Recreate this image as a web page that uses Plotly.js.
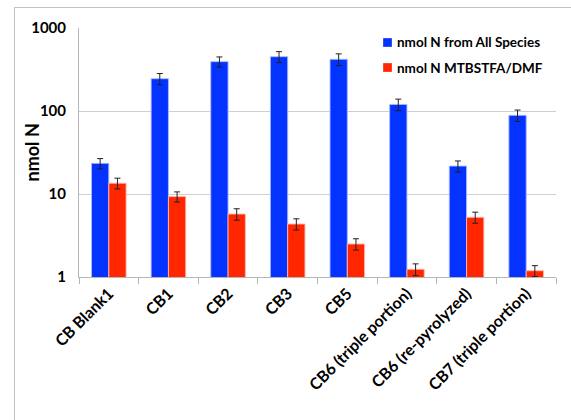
<!DOCTYPE html>
<html>
<head>
<meta charset="utf-8">
<script src="https://cdn.plot.ly/plotly-3.0.1.min.js"></script>
<style>
html,body{margin:0;padding:0;background:#fff;}
#frame{position:absolute;left:14px;top:7px;width:600px;height:500px;border-left:1px solid #c4c4c4;border-top:1px solid #c4c4c4;}
#chart{position:absolute;left:0;top:0;width:571px;height:420px;}
</style>
</head>
<body>
<div id="frame"></div>
<div id="chart"></div>
<script>
const categories = ["CB Blank1","CB1","CB2","CB3","CB5","CB6 (triple portion)","CB6 (re-pyrolyzed)","CB7 (triple portion)"];
const allSpecies = [23.4, 245, 393, 451, 420, 120, 21.7, 88.7];
const allSpeciesErr = [3.3, 38, 55, 68, 68, 19, 3.3, 14];
const mtbstfa = [13.5, 9.3, 5.74, 4.35, 2.5, 1.24, 5.24, 1.19];
const mtbstfaErr = [2.0, 1.3, 0.9, 0.67, 0.39, 0.2, 0.8, 0.18];
const seriesNames = ["nmol N from All Species","nmol N MTBSTFA/DMF"];
const seriesColors = ["#0433FF","#FF2600"];
const yTickVals = [1, 10, 100, 1000];
const yTickText = ["1","10","100","1000"];

const FONT = "Lato, 'Open Sans', sans-serif";
const W = 571, H = 420, ML = 79, MR = 15, MT = 28, MB = 143;
const PW = W - ML - MR, PH = H - MT - MB;
const px = v => (v - ML) / PW;
const py = v => (H - MB - v) / PH;

const traces = [
  {type:"bar", name:seriesNames[0], x:categories, y:allSpecies,
   marker:{color:seriesColors[0], line:{color:"rgba(170,185,255,0.9)", width:1}},
   error_y:{type:"data", array:allSpeciesErr, visible:true, color:"#222", thickness:1, width:3}},
  {type:"bar", name:seriesNames[1], x:categories, y:mtbstfa,
   marker:{color:seriesColors[1], line:{color:"rgba(255,185,175,0.9)", width:1}},
   error_y:{type:"data", array:mtbstfaErr, visible:true, color:"#222", thickness:1, width:3}}
];

// legend drawn as squares + text
const legendTop = [38, 63];
const shapes = seriesNames.map((n, i) => ({
  type:"rect", xref:"paper", yref:"paper",
  x0:px(383), x1:px(392), y0:py(legendTop[i] + 9), y1:py(legendTop[i]),
  fillcolor:seriesColors[i], line:{color:"rgba(255,255,255,0.6)", width:0.5}
}));
const annotations = seriesNames.map((n, i) => ({
  xref:"paper", yref:"paper", x:px(395), y:py(legendTop[i] + 4.5),
  xanchor:"left", yanchor:"middle", showarrow:false, text:n,
  font:{size:13.5, family:FONT, weight:"bold", color:"#000"}
}));
annotations.push({
  xref:"paper", yref:"paper", x:px(31), y:0.5, xanchor:"center", yanchor:"middle",
  textangle:-90, showarrow:false, text:"nmol N",
  font:{size:18, family:FONT, weight:"bold", color:"#000"}
});

const layout = {
  width:W, height:H,
  paper_bgcolor:"rgba(0,0,0,0)", plot_bgcolor:"rgba(0,0,0,0)",
  margin:{l:ML, r:MR, t:MT, b:MB},
  barmode:"group", bargap:0.42, bargroupgap:0,
  font:{family:FONT, color:"#000"},
  showlegend:false,
  xaxis:{type:"category", tickangle:-45, tickfont:{size:16, family:FONT, weight:"bold"},
         showline:true, linecolor:"#b5b5b5", linewidth:1, ticks:"outside", tickson:"boundaries",
         ticklen:6, tickcolor:"#b5b5b5", showgrid:false, zeroline:false},
  yaxis:{type:"log", range:[0,3], tickvals:yTickVals, ticktext:yTickText,
         tickfont:{size:15, family:FONT, weight:"bold"},
         showline:true, linecolor:"#b5b5b5", linewidth:1, ticks:"", showgrid:true, gridcolor:"#cfcfcf", gridwidth:1,
         zeroline:false, ticklabelstandoff:9},
  shapes:shapes,
  annotations:annotations
};

Plotly.newPlot("chart", traces, layout, {displayModeBar:false, staticPlot:true});
</script>
</body>
</html>
